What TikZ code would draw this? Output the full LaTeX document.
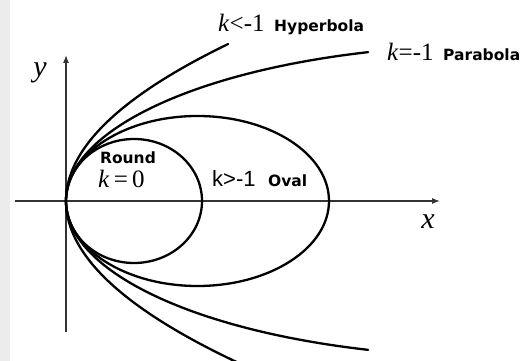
\documentclass[tikz,border=0pt]{standalone}
\usepackage{fontspec}
\setmainfont{Liberation Serif}
\newfontfamily\lsans{Liberation Sans}
\newfontfamily\dvb{DejaVu Sans}
\usetikzlibrary{arrows.meta}
\begin{document}
\begin{tikzpicture}[x=1pt,y=1pt,
  curve/.style={line width=2.3pt, draw=black, line cap=round},
  axis/.style={line width=1.3pt, draw=black!80, -{Latex[length=8pt,width=6pt]}},
  tag/.style={font=\fontsize{15.5}{18}\selectfont\dvb\bfseries, inner sep=0pt, anchor=base west},
  kval/.style={font=\fontsize{25}{29}\selectfont, inner sep=0pt, anchor=base west, text=black},
  axlab/.style={font=\fontsize{30}{34}\selectfont\itshape, inner sep=0pt}]
\useasboundingbox (-66,-160) rectangle (459,201);
\fill[gray!15] (-66,-160) rectangle (-56,201);
\coordinate (O) at (0,0);
\coordinate (xs) at (-51,0);
\coordinate (xe) at (374,0);
\coordinate (ys) at (0,-131);
\coordinate (ye) at (0,146);
\draw[axis] (xs) -- (xe);
\draw[axis] (ys) -- (ye);
\draw[curve] (68,0) ellipse [x radius=68, y radius=62];
\draw[curve] (131.5,0) ellipse [x radius=131.5, y radius=85];
\draw[curve] (O) arc[start angle=180, end angle=107.4, x radius=431, y radius=156];
\draw[curve] (O) arc[start angle=180, end angle=252.6, x radius=431, y radius=156];
\draw[curve] plot[domain=-16.3:15.7, samples=90, smooth] ({\x*\x/1.52}, {10*\x});
\node[kval] (kh) at (152,169) {\textit{k}<-1};
\node[tag] (th) at (208,169) {Hyperbola};
\node[kval] (kp) at (321,140) {\textit{k}=-1};
\node[tag] (tp) at (377,140) {Parabola};
\node[tag, anchor=center] (tr) at (62,43) {Round};
\node[kval] (k0) at (32,13) {\textit{k}\,=\,0};
\node[kval, font=\fontsize{22}{26}\selectfont\lsans] (ko) at (146,14) {k>-1};
\node[tag] (to) at (202,14) {Oval};
\node[axlab] (lx) at (362,-21) {x};
\node[axlab] (ly) at (-26,128.5) {y};
\end{tikzpicture}
\end{document}
